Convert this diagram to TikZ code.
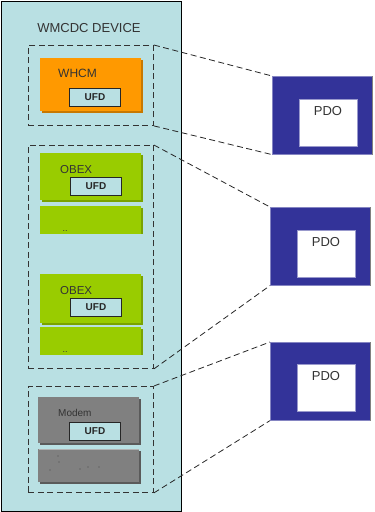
\documentclass[tikz,border=0pt]{standalone}
\usepackage{fontspec}
\setmainfont{Liberation Sans}
\definecolor{devcol}{HTML}{B9E0E3}
\definecolor{orng}{HTML}{FF9900}
\definecolor{orngdk}{HTML}{C87800}
\definecolor{grn}{HTML}{99CC00}
\definecolor{grndk}{HTML}{7AA300}
\definecolor{gry}{HTML}{808080}
\definecolor{grydk}{HTML}{5A5A5A}
\definecolor{navy}{HTML}{333399}
\definecolor{txt}{HTML}{333333}
\begin{document}
\begin{tikzpicture}[x=1pt,y=-1pt,
  dev/.style={draw=black, fill=devcol, line width=0.9pt, anchor=north west, inner sep=0pt},
  grp/.style={draw=black!80, dash pattern=on 6pt off 3.5pt, line width=0.9pt, anchor=north west, inner sep=0pt},
  conn/.style={draw=black!85, dash pattern=on 6pt off 3.5pt, line width=0.8pt},
  blk/.style={anchor=north west, inner sep=0pt},
  ufd/.style={draw=black!85, fill=devcol, line width=0.9pt, anchor=north west, inner sep=0pt,
    minimum width=51pt, minimum height=18pt, font=\fontsize{10}{12}\selectfont\bfseries, text=black!85},
  lbl/.style={anchor=west, inner sep=0pt, text=txt},
  pdo/.style={draw=navy!60, fill=navy, line width=0.6pt, anchor=north west, inner sep=0pt,
    minimum width=100pt, minimum height=78pt},
  pdoin/.style={draw=navy!50, fill=white, line width=0.6pt, anchor=north west, inner sep=0pt,
    minimum width=58pt, minimum height=47pt}
]
\useasboundingbox (0,0) rectangle (375,512);
% device
\node[dev, minimum width=180pt, minimum height=510pt] (dev) at (0.5,0.5) {};
\node[text=txt, font=\fontsize{13}{15}\selectfont] (title) at (89,28) {WMCDC DEVICE};

% group 1: WHCM
\node[grp, minimum width=125pt, minimum height=80pt] (g1) at (28,45) {};
\fill[orngdk] (42,60) rectangle (143,113);
\node[blk, fill=orng, minimum width=101pt, minimum height=53pt] (whcm) at (40,58) {};
\node[lbl, font=\fontsize{12}{14}\selectfont] (whcmt) at (58,73) {WHCM};
\node[ufd] (u1) at (69,88) {UFD};

% group 2: OBEX
\node[grp, minimum width=125pt, minimum height=223pt] (g2) at (28,145) {};
\fill[grndk] (42,155) rectangle (143,202);
\node[blk, fill=grn, minimum width=101pt, minimum height=47pt] (ob1) at (40,153) {};
\node[lbl, font=\fontsize{11.5}{13}\selectfont] (ob1t) at (60,170) {OBEX};
\node[ufd] (u2) at (70,177) {UFD};
\fill[grndk] (42,208) rectangle (143,234);
\node[blk, fill=grn, minimum width=101pt, minimum height=28pt] (ob1b) at (40,206) {};
\node[inner sep=0pt, font=\fontsize{9}{10}\selectfont, text=txt] (d1) at (65,231) {..};

\fill[grndk] (42,276) rectangle (143,325);
\node[blk, fill=grn, minimum width=101pt, minimum height=49pt] (ob2) at (40,274) {};
\node[lbl, font=\fontsize{11.5}{13}\selectfont] (ob2t) at (60,291) {OBEX};
\node[ufd] (u3) at (70,298) {UFD};
\fill[grndk] (42,329) rectangle (143,355);
\node[blk, fill=grn, minimum width=101pt, minimum height=28pt] (ob2b) at (40,327) {};
\node[inner sep=0pt, font=\fontsize{9}{10}\selectfont, text=txt] (d2) at (65,352) {..};

% group 3: Modem
\node[grp, minimum width=125pt, minimum height=106pt] (g3) at (28,386) {};
\fill[grydk] (40,399) rectangle (141,445);
\node[blk, fill=gry, minimum width=101pt, minimum height=46pt] (mdm) at (38,397) {};
\node[lbl, font=\fontsize{10}{12}\selectfont] (mdmt) at (58,413) {Modem};
\node[ufd] (u4) at (69,422) {UFD};
\fill[grydk] (40,451) rectangle (141,484);
\node[blk, fill=gry, minimum width=101pt, minimum height=33pt] (mdmb) at (38,449) {};
\draw[gray!60!white, line width=1pt] (38.5,449.5) -- (139,449.5);
\foreach \px/\py in {58/456, 59/462, 50/470, 80/469, 88/467, 99/467}
  \fill[black!70] (\px,\py) circle (0.6);

% PDO boxes
\node[pdo] (p1) at (272,76) {};
\draw[gray, line width=1pt] (p1.north east) -- (p1.south east);
\node[pdoin] (p1i) at (299,99) {};
\node[text=txt, font=\fontsize{13}{15}\selectfont] (p1t) at (328,111.5) {PDO};

\node[pdo] (p2) at (270,207) {};
\draw[gray, line width=1pt] (p2.north east) -- (p2.south east);
\node[pdoin] (p2i) at (297,230) {};
\node[text=txt, font=\fontsize{13}{15}\selectfont] (p2t) at (326,242.5) {PDO};

\node[pdo] (p3) at (270,342) {};
\draw[gray, line width=1pt] (p3.north east) -- (p3.south east);
\node[pdoin] (p3i) at (297,364) {};
\node[text=txt, font=\fontsize{13}{15}\selectfont] (p3t) at (326,376.5) {PDO};

% connectors
\draw[conn] (g1.north east) -- (p1.north west);
\draw[conn] (g1.south east) -- (p1.south west);
\draw[conn] (g2.north east) -- (p2.north west);
\draw[conn] (g2.south east) -- (p2.south west);
\draw[conn] (g3.north east) -- (p3.north west);
\draw[conn] (g3.south east) -- (p3.south west);
\end{tikzpicture}
\end{document}
